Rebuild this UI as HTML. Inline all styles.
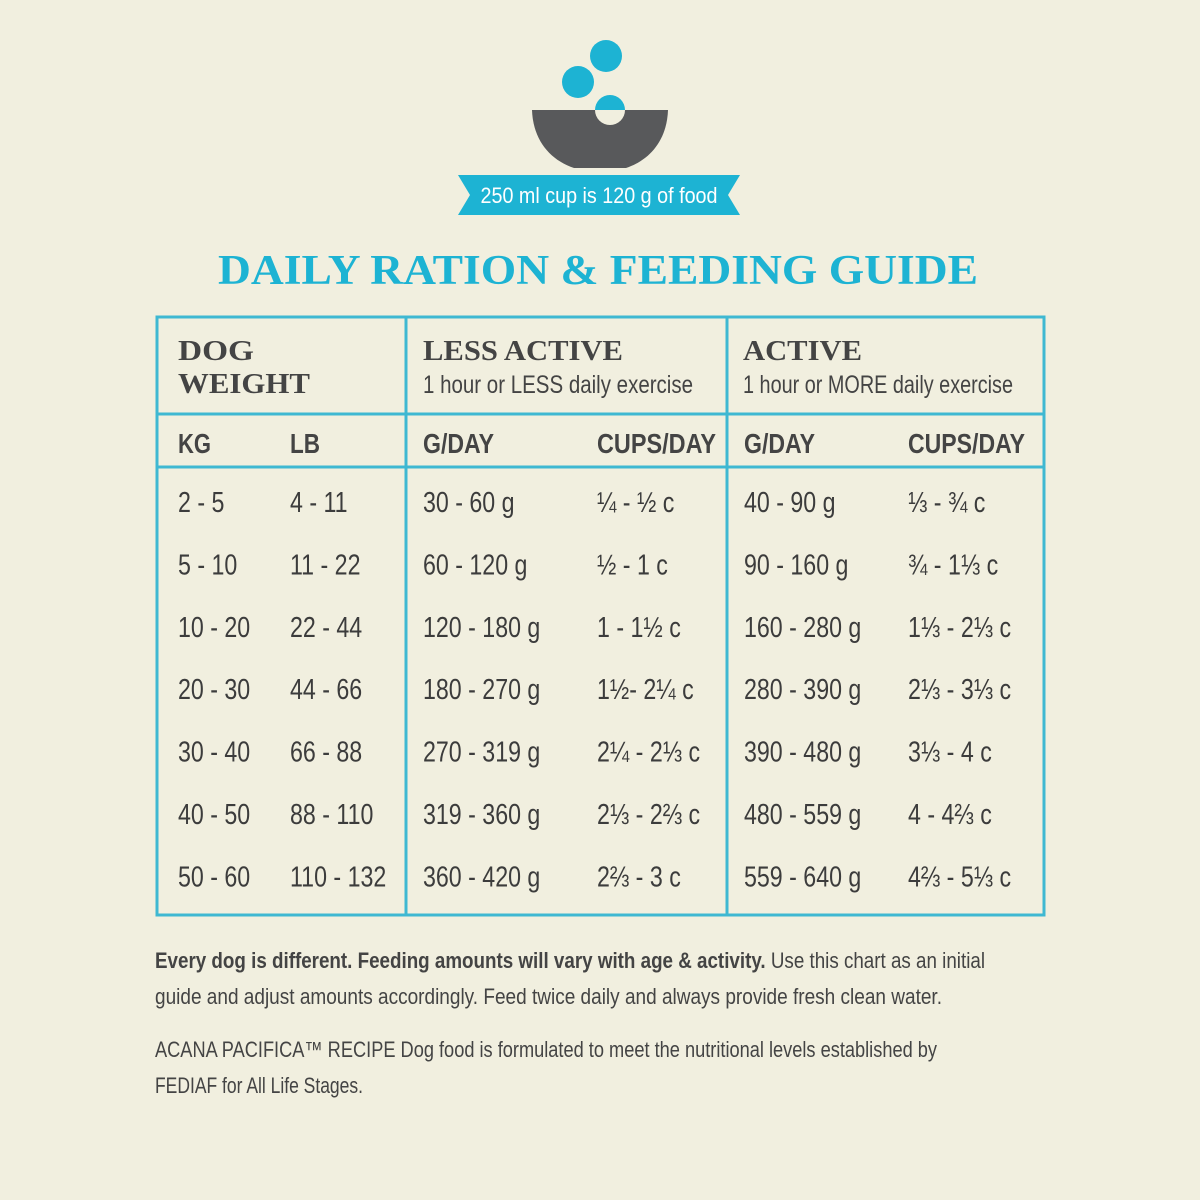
<!DOCTYPE html>
<html><head><meta charset="utf-8">
<style>
html,body{margin:0;padding:0;background:#f1efdf;}
svg{display:block;}
.n{font-family:"Liberation Sans Narrow","Liberation Sans",sans-serif;}
.s{font-family:"Liberation Serif",serif;font-weight:bold;}
</style></head>
<body>
<svg id="chart" width="1200" height="1200" viewBox="0 0 1200 1200" xmlns="http://www.w3.org/2000/svg">
<rect width="1200" height="1200" fill="#f1efdf"/>
<g>
  <circle cx="606" cy="56" r="16" fill="#1db3d3"/>
  <circle cx="578" cy="82" r="16" fill="#1db3d3"/>
  <path d="M532,110 L668,110 C667,140 650,160 626,168 L574,168 C550,160 533,140 532,110 Z" fill="#58595b"/>
  <circle cx="610" cy="110" r="15" fill="#f1efdf"/>
  <path d="M595,110 A15,15 0 0 1 625,110 Z" fill="#1db3d3"/>
</g>
<g>
  <path d="M458,175 L740,175 L728,195 L740,215 L458,215 L470,195 Z" fill="#1db3d3"/>
  <text class="n" x="599" y="203" font-size="22" fill="#fff" text-anchor="middle" textLength="237" lengthAdjust="spacingAndGlyphs">250 ml cup is 120 g of food</text>
</g>
<text class="s" x="218" y="284" font-size="42" fill="#1db3d3" textLength="760" lengthAdjust="spacingAndGlyphs">DAILY RATION &amp; FEEDING GUIDE</text>
<g stroke="#3fb8d2" stroke-width="3" fill="none">
  <rect x="157" y="317" width="887" height="598"/>
  <line x1="406" y1="317" x2="406" y2="915"/>
  <line x1="727" y1="317" x2="727" y2="915"/>
  <line x1="157" y1="414" x2="1044" y2="414"/>
  <line x1="157" y1="467" x2="1044" y2="467"/>
</g>
<g fill="#444">
  <text class="s" x="178" y="360" font-size="28" textLength="76" lengthAdjust="spacingAndGlyphs">DOG</text>
  <text class="s" x="178" y="393" font-size="28" textLength="132" lengthAdjust="spacingAndGlyphs">WEIGHT</text>
  <text class="s" x="423" y="360" font-size="28" textLength="200" lengthAdjust="spacingAndGlyphs">LESS ACTIVE</text>
  <text class="n" x="423" y="393" font-size="25" textLength="270" lengthAdjust="spacingAndGlyphs">1 hour or LESS daily exercise</text>
  <text class="s" x="743" y="360" font-size="28" textLength="119" lengthAdjust="spacingAndGlyphs">ACTIVE</text>
  <text class="n" x="743" y="393" font-size="25" textLength="270" lengthAdjust="spacingAndGlyphs">1 hour or MORE daily exercise</text>
</g>
<g fill="#444" font-weight="bold" font-size="28">
  <text class="n" x="178" y="453" textLength="33" lengthAdjust="spacingAndGlyphs">KG</text>
  <text class="n" x="290" y="453" textLength="30" lengthAdjust="spacingAndGlyphs">LB</text>
  <text class="n" x="423" y="453" textLength="71" lengthAdjust="spacingAndGlyphs">G/DAY</text>
  <text class="n" x="597" y="453" textLength="119" lengthAdjust="spacingAndGlyphs">CUPS/DAY</text>
  <text class="n" x="744" y="453" textLength="71" lengthAdjust="spacingAndGlyphs">G/DAY</text>
  <text class="n" x="908" y="453" textLength="117" lengthAdjust="spacingAndGlyphs">CUPS/DAY</text>
</g>
<g id="rows"></g>
<g fill="#444" font-size="22">
  <text class="n" x="155" y="968" textLength="830" lengthAdjust="spacingAndGlyphs"><tspan font-weight="bold">Every dog is different. Feeding amounts will vary with age &amp; activity.</tspan> Use this chart as an initial</text>
  <text class="n" x="155" y="1004" textLength="787" lengthAdjust="spacingAndGlyphs">guide and adjust amounts accordingly. Feed twice daily and always provide fresh clean water.</text>
  <text class="n" x="155" y="1057" textLength="782" lengthAdjust="spacingAndGlyphs">ACANA PACIFICA™ RECIPE Dog food is formulated to meet the nutritional levels established by</text>
  <text class="n" x="155" y="1093" textLength="208" lengthAdjust="spacingAndGlyphs">FEDIAF for All Life Stages.</text>
</g>
</svg>
<script>
const kgRanges = ["2 - 5","5 - 10","10 - 20","20 - 30","30 - 40","40 - 50","50 - 60"];
const lbRanges = ["4 - 11","11 - 22","22 - 44","44 - 66","66 - 88","88 - 110","110 - 132"];
const lessGrams = ["30 - 60 g","60 - 120 g","120 - 180 g","180 - 270 g","270 - 319 g","319 - 360 g","360 - 420 g"];
const lessCups = ["¼ - ½ c","½ - 1 c","1 - 1½ c","1½- 2¼ c","2¼ - 2⅓ c","2⅓ - 2⅔ c","2⅔ - 3 c"];
const activeGrams = ["40 - 90 g","90 - 160 g","160 - 280 g","280 - 390 g","390 - 480 g","480 - 559 g","559 - 640 g"];
const activeCups = ["⅓ - ¾ c","¾ - 1⅓ c","1⅓ - 2⅓ c","2⅓ - 3⅓ c","3⅓ - 4 c","4 - 4⅔ c","4⅔ - 5⅓ c"];

const NS = "http://www.w3.org/2000/svg";
const g = document.getElementById("rows");
const cols = [
  {data: kgRanges, x: 178, name: "kg-cell"},
  {data: lbRanges, x: 290, name: "lb-cell"},
  {data: lessGrams, x: 423, name: "less-active-grams-cell"},
  {data: lessCups, x: 597, name: "less-active-cups-cell"},
  {data: activeGrams, x: 744, name: "active-grams-cell"},
  {data: activeCups, x: 908, name: "active-cups-cell"}
];
function rowY(i){ return 512 + i * 62.4; }
cols.forEach(c => {
  c.data.forEach((v, i) => {
    const t = document.createElementNS(NS, "text");
    t.setAttribute("x", 0);
    t.setAttribute("y", rowY(i));
    t.setAttribute("transform", "translate(" + c.x + ",0) scale(0.8,1)");
    t.setAttribute("class", "n");
    t.setAttribute("font-size", "29");
    t.setAttribute("fill", "#3c3c3c");
    t.textContent = v;
    
    
    g.appendChild(t);
  });
});
</script>
</body></html>
